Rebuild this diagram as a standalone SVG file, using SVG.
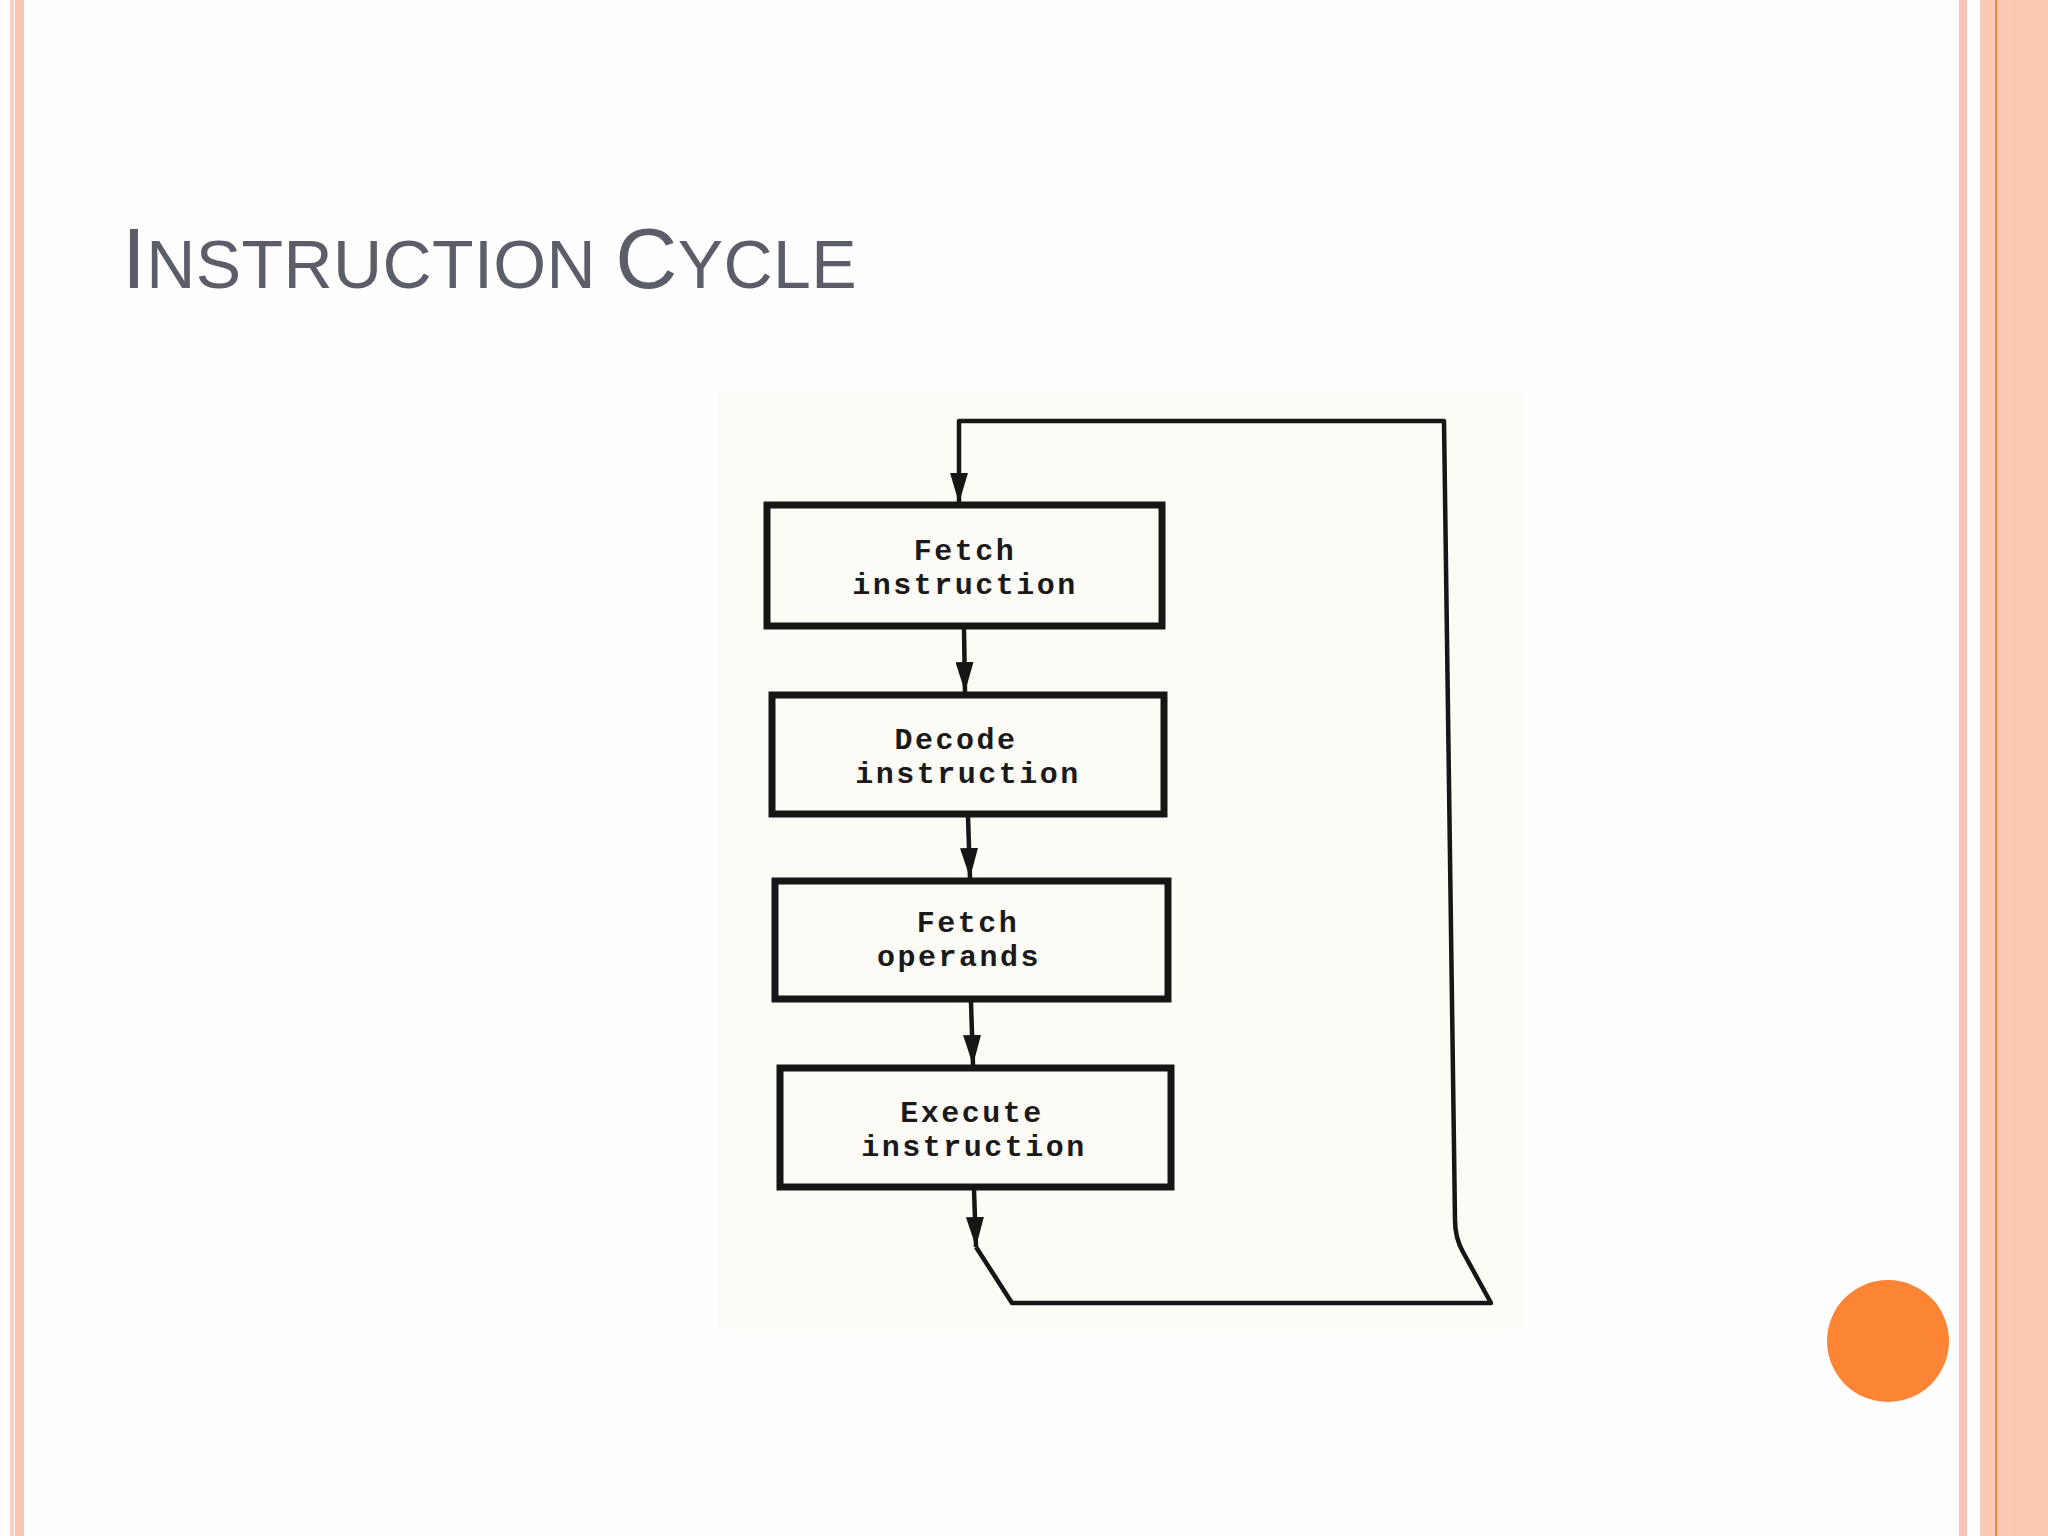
<svg xmlns="http://www.w3.org/2000/svg" width="2048" height="1536" viewBox="0 0 2048 1536">
<style>
.box{fill:#fcfbf6;stroke:#161616;stroke-width:7}
.lbl{font-family:"Liberation Mono","DejaVu Sans Mono",monospace;font-weight:bold;font-size:30px;letter-spacing:2.5px;fill:#1a1a1a;text-anchor:middle}
.conn{fill:none;stroke:#161616;stroke-width:4.5;stroke-linejoin:round}
.title{font-family:"Liberation Sans",Arial,sans-serif;fill:#5b5e69;letter-spacing:0.4px}
</style>
<defs>
<marker id="ah" viewBox="0 0 30 18" refX="30" refY="9" markerWidth="30" markerHeight="18" markerUnits="userSpaceOnUse" orient="auto">
<path d="M0,0 L30,9 L0,18 z" fill="#161616"/>
</marker>
</defs>
<rect x="0" y="0" width="2048" height="1536" fill="#fefefe"/>
<g id="borders">
<rect x="10" y="0" width="4" height="1536" fill="#fbcfc3"/>
<rect x="15" y="0" width="9" height="1536" fill="#f9c5ad"/>
<rect x="1959" y="0" width="8" height="1536" fill="#fcc5b8"/>
<rect x="1980" y="0" width="68" height="1536" fill="#fbcab4"/>
<rect x="1995" y="0" width="2" height="1536" fill="#f08448"/>
<rect x="2012" y="0" width="36" height="1536" fill="#fcc8b0"/>
</g>
<circle id="dot" cx="1888" cy="1341" r="61" fill="#fb8535"/>
<text id="title" class="title" x="122" y="288"><tspan font-size="86">I</tspan><tspan font-size="68">NSTRUCTION </tspan><tspan font-size="86">C</tspan><tspan font-size="68">YCLE</tspan></text>
<rect x="718" y="392" width="805" height="938" fill="#fcfbf6"/>
<g id="connectors">
<path class="conn" d="M964 629 L965 692" marker-end="url(#ah)"/>
<path class="conn" d="M968 817 L970 878" marker-end="url(#ah)"/>
<path class="conn" d="M971 1002 L973 1065" marker-end="url(#ah)"/>
<path class="conn" d="M974 1190 L976 1247" marker-end="url(#ah)"/>
<path class="conn" d="M976 1247 L1012 1303 L1491 1303 L1463 1252 Q1455 1238 1455 1220 L1444 421 L959 421 L959 503" marker-end="url(#ah)"/>
</g>
<g id="fetch-instruction">
<rect class="box" x="767" y="505" width="395" height="121"/>
<text class="lbl"><tspan x="965" y="560">Fetch</tspan><tspan x="965" y="594">instruction</tspan></text>
</g>
<g id="decode-instruction">
<rect class="box" x="772" y="695" width="392" height="119"/>
<text class="lbl"><tspan x="956" y="749">Decode</tspan><tspan x="968" y="783">instruction</tspan></text>
</g>
<g id="fetch-operands">
<rect class="box" x="775" y="881" width="393" height="118"/>
<text class="lbl"><tspan x="968" y="932">Fetch</tspan><tspan x="959" y="966">operands</tspan></text>
</g>
<g id="execute-instruction">
<rect class="box" x="780" y="1068" width="391" height="119"/>
<text class="lbl"><tspan x="972" y="1122">Execute</tspan><tspan x="974" y="1156">instruction</tspan></text>
</g>
</svg>
